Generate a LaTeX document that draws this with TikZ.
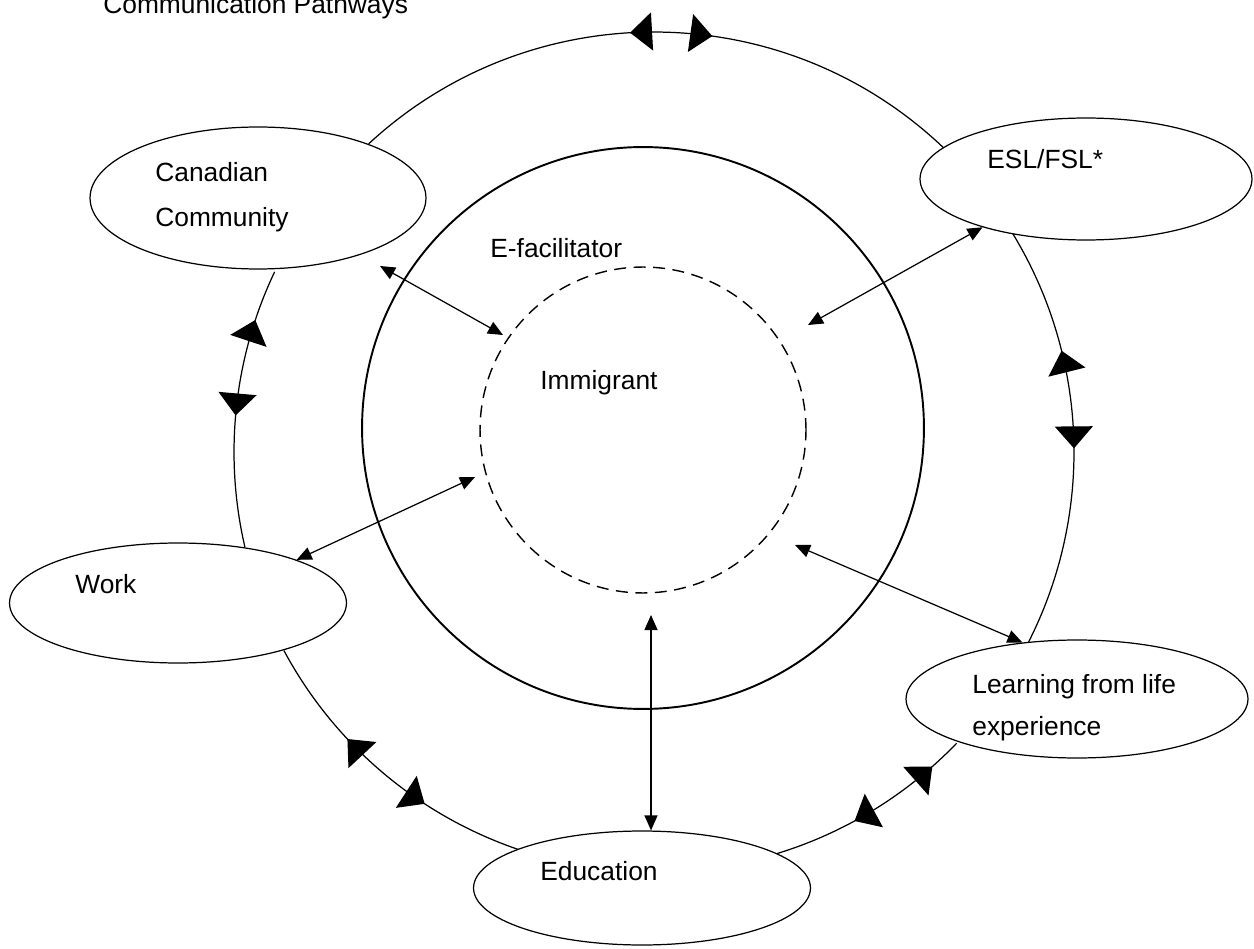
\documentclass[tikz,border=0pt]{standalone}
\usepackage{fontspec}
\setmainfont{Liberation Sans}
\usetikzlibrary{shapes.geometric,arrows.meta,decorations.markings}

\tikzset{
  place/.style={ellipse,draw,line width=0.7pt,fill=white,inner sep=0pt},
  txt/.style={anchor=base west,inner sep=0pt,font=\fontsize{15}{18}\selectfont},
  pathway/.style={line width=0.7pt},
  bigtip/.tip={Triangle[length=0.44cm,width=0.76cm]},
  twoway/.style 2 args={postaction={decorate},decoration={markings,
      mark=at position #1 with {\arrowreversed{bigtip}},
      mark=at position #2 with {\arrow{bigtip}}}},
  link/.style={{Triangle[length=0.3cm,width=0.26cm]}-{Triangle[length=0.3cm,width=0.26cm]},line width=0.7pt}
}

\begin{document}
\begin{tikzpicture}[x=0.02cm,y=-0.02cm]
  \useasboundingbox (0,0) rectangle (1254,949);
  \coordinate (ring) at (654,452);

  % outer pathway, one arc between each pair of places
  \draw[pathway,twoway={0.457}{0.587}] ([shift={(-132.8:420)}]ring) arc[start angle=-132.8,end angle=-46.3,radius=420];
  \draw[pathway,twoway={0.30}{0.53}] ([shift={(-31.5:420)}]ring) arc[start angle=-31.5,end angle=27,radius=420];
  \draw[pathway,twoway={0.157}{0.60}] ([shift={(43.9:420)}]ring) arc[start angle=43.9,end angle=73.2,radius=420];
  \draw[pathway,twoway={0.334}{0.654}] ([shift={(108.7:420)}]ring) arc[start angle=108.7,end angle=151.8,radius=420];
  \draw[pathway,twoway={0.184}{0.53}] ([shift={(205.4:420)}]ring) arc[start angle=205.4,end angle=166.9,radius=420];

  \node[place,minimum width=6.72cm,minimum height=2.84cm] (comm) at (258,198) {};
  \node[place,minimum width=6.64cm,minimum height=2.44cm] (esl) at (1086,179) {};
  \node[place,minimum width=6.74cm,minimum height=2.4cm] (work) at (178,603) {};
  \node[place,minimum width=6.84cm,minimum height=2.36cm] (learn) at (1077,699) {};
  \node[place,minimum width=6.74cm,minimum height=2.28cm] (edu) at (642,888) {};

  \node[circle,draw,line width=1.1pt,inner sep=0pt,minimum size=11.24cm] (efac) at (643,428) {};
  \node[circle,draw,line width=0.8pt,dash pattern=on 0.24cm off 0.15cm,inner sep=0pt,minimum size=6.52cm] (imm) at (643,430) {};

  \node[txt] (title) at (103,14) {Communication Pathways};
  \node[txt] (commtop) at (155,182) {Canadian};
  \node[txt] (commbot) at (155,227) {Community};
  \node[txt] (esltext) at (987,169) {ESL/FSL*};
  \node[txt] (worktext) at (75,593) {Work};
  \node[txt] (learntop) at (972,693) {Learning from life};
  \node[txt] (learnbot) at (972,735) {experience};
  \node[txt] (edutext) at (540,880) {Education};
  \node[txt] (efactext) at (490,258) {E-facilitator};
  \node[txt] (immtext) at (540,390) {Immigrant};

  \coordinate (commtip) at (380,266);
  \coordinate (immnw) at (503,335);
  \coordinate (immne) at (808,325);
  \coordinate (immw) at (475,477);
  \coordinate (immse) at (795,545);
  \coordinate (imms) at (651,615);
  \draw[link] (commtip) -- (immnw);
  \draw[link] (esl.205) -- (immne);
  \draw[link] (work.20) -- (immw);
  \draw[link] (learn.134) -- (immse);
  \draw[link] (imms) -- (imms |- edu.north);
\end{tikzpicture}
\end{document}
